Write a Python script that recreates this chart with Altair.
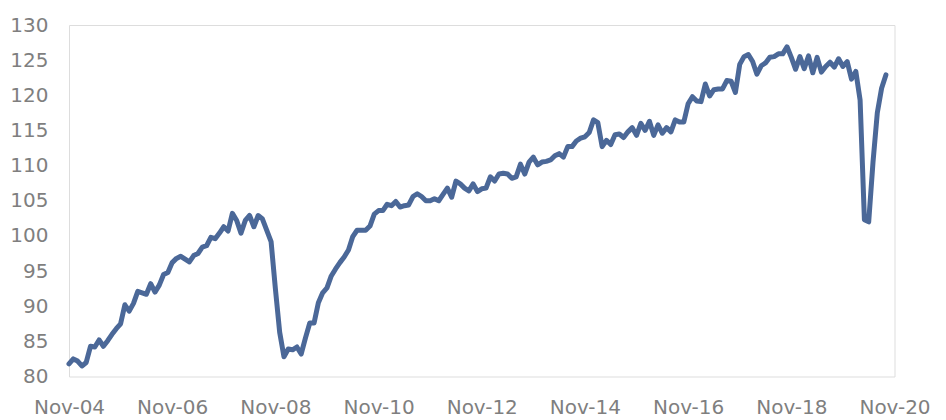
import altair as alt
import pandas as pd

# Monthly index values, Nov-2004 onwards
values = [
    81.8, 82.5, 82.2, 81.5, 82.0, 84.3, 84.2, 85.2, 84.3, 85.1,
    86.0, 86.8, 87.5, 90.2, 89.3, 90.4, 92.1, 91.9, 91.7, 93.2,
    92.0, 93.0, 94.5, 94.8, 96.2, 96.8, 97.1, 96.7, 96.3, 97.2,
    97.5, 98.4, 98.6, 99.8, 99.6, 100.4, 101.3, 100.7, 103.2, 102.2,
    100.4, 102.2, 102.9, 101.3, 102.9, 102.4, 100.8, 99.2, 92.5, 86.3,
    82.8, 83.9, 83.8, 84.2, 83.2, 85.5, 87.6, 87.6, 90.5, 91.9,
    92.6, 94.3, 95.3, 96.2, 97.0, 98.0, 99.9, 100.8, 100.8, 100.8,
    101.4, 103.1, 103.6, 103.6, 104.5, 104.3, 104.9, 104.1, 104.3, 104.4,
    105.6, 106.0, 105.6, 105.0, 105.0, 105.3, 105.0, 105.9, 106.8, 105.5,
    107.8, 107.4, 106.8, 106.4, 107.4, 106.3, 106.7, 106.8, 108.4, 107.8,
    108.8, 108.9, 108.8, 108.2, 108.4, 110.2, 108.8, 110.5, 111.2, 110.1,
    110.5, 110.6, 110.8, 111.4, 111.7, 111.2, 112.7, 112.7, 113.5, 113.9,
    114.1, 114.7, 116.5, 116.1, 112.7, 113.6, 113.0, 114.4, 114.5, 114.0,
    114.8, 115.4, 114.3, 116.0, 115.0, 116.3, 114.3, 115.8, 114.6, 115.4,
    114.8, 116.5, 116.2, 116.2, 118.8, 119.8, 119.2, 119.1, 121.6, 119.9,
    120.8, 120.9, 120.9, 122.1, 122.0, 120.4, 124.4, 125.5, 125.8, 124.8,
    123.0, 124.2, 124.6, 125.4, 125.5, 125.9, 125.9, 126.9, 125.4, 123.7,
    125.5, 123.8, 125.6, 123.2, 125.4, 123.3, 124.1, 124.7, 124.0, 125.2,
    124.1, 124.8, 122.3, 123.4, 119.3, 102.3, 102.0, 110.5, 117.5, 121.0,
    122.9,
]

# Axis labels, one every 24 months
x_labels = ["Nov-04", "Nov-06", "Nov-08", "Nov-10", "Nov-12",
            "Nov-14", "Nov-16", "Nov-18", "Nov-20"]
y_ticks = [80, 85, 90, 95, 100, 105, 110, 115, 120, 125, 130]

df = pd.DataFrame({"month": list(range(len(values))), "value": values})

label_list = "[" + ",".join(f"'{s}'" for s in x_labels) + "]"

FONT = "DejaVu Sans"
GREY = "#7f7f7f"

chart = (
    alt.Chart(df)
    .mark_line(color="#4b6898", strokeWidth=5, strokeJoin="round", strokeCap="round")
    .encode(
        x=alt.X(
            "month:Q",
            scale=alt.Scale(domain=[0, 192], nice=False, zero=False),
            axis=alt.Axis(
                values=[i * 24 for i in range(len(x_labels))],
                labelExpr=f"{label_list}[round(datum.value / 24)]",
                title=None,
                grid=False,
                domain=False,
                ticks=False,
                tickSize=0,
                labelPadding=21,
                labelFont=FONT,
                labelFontSize=20,
                labelColor=GREY,
                labelOverlap=False,
                labelFlush=False,
            ),
        ),
        y=alt.Y(
            "value:Q",
            scale=alt.Scale(domain=[80, 130], nice=False, zero=False),
            axis=alt.Axis(
                values=y_ticks,
                title=None,
                grid=False,
                domain=False,
                ticks=False,
                tickSize=0,
                labelPadding=21,
                labelFont=FONT,
                labelFontSize=20,
                labelColor=GREY,
                labelOverlap=False,
            ),
        ),
    )
    .properties(
        width=825.5,
        height=351.5,
        autosize=alt.AutoSizeParams(type="none"),
        padding={"left": 69, "top": 25, "right": 51.5, "bottom": 43.5},
    )
    .configure_view(stroke=None)
    .configure(background="white")
)

chart.save("out.html", embed_options={"renderer": "svg", "actions": False})
